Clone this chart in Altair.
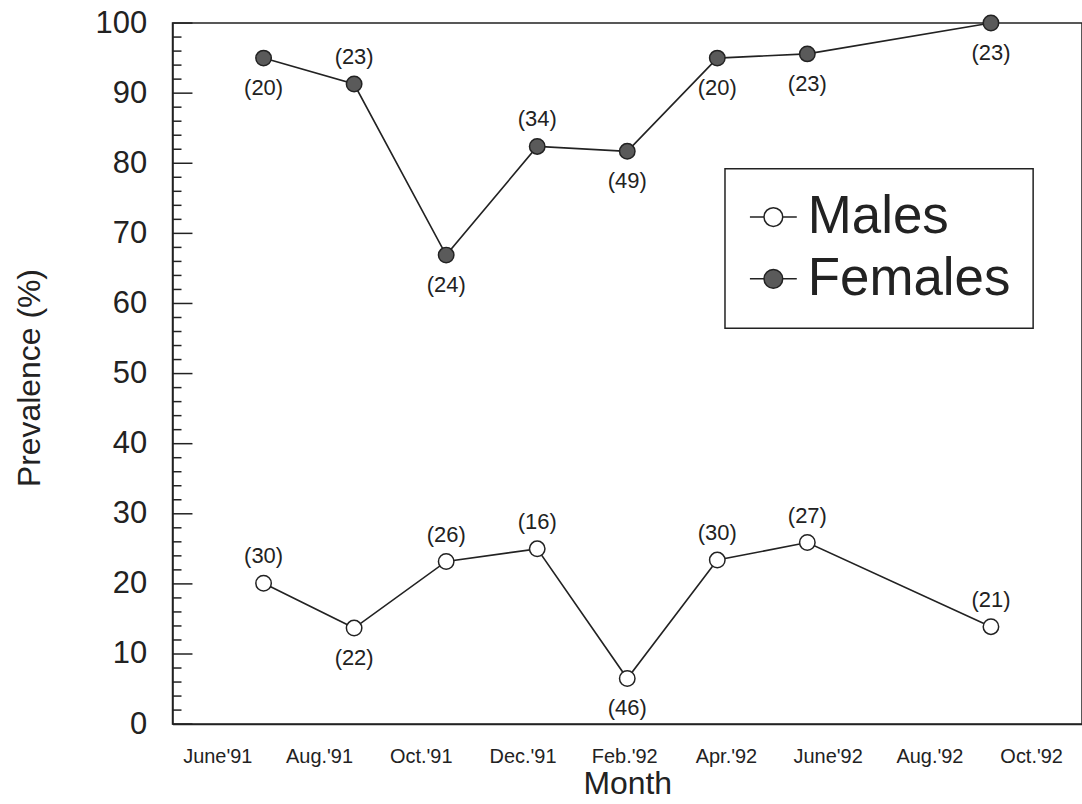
import json
import altair as alt
import pandas as pd

# ---- data ----
month_labels = ["June'91", "Aug.'91", "Oct.'91", "Dec.'91", "Feb.'92",
                "Apr.'92", "June'92", "Aug.'92", "Oct.'92"]
month_ticks = [0, 2, 4, 6, 8, 10, 12, 14, 16]          # months after June'91
survey_month = [0.91, 2.69, 4.50, 6.29, 8.06, 9.83, 11.60, 15.21]
males = [20.1, 13.7, 23.2, 25.0, 6.5, 23.4, 25.9, 13.9]
males_n = [30, 22, 26, 16, 46, 30, 27, 21]
females = [95.0, 91.3, 66.9, 82.4, 81.7, 95.0, 95.6, 100.0]
females_n = [20, 23, 24, 34, 49, 20, 23, 23]
y_major = list(range(0, 101, 10))
y_minor = [v for v in range(0, 101, 2) if v % 10 != 0]

# ---- style: where each sample-size label sits ----
males_side = ["above", "below", "above", "above", "below", "above", "above", "above"]
females_side = ["below", "above", "below", "above", "below", "below", "below", "below"]

rows = []
for sex, vals, ns, sides in (("Males", males, males_n, males_side),
                             ("Females", females, females_n, females_side)):
    for m, v, n, s in zip(survey_month, vals, ns, sides):
        rows.append({"sex": sex, "month": m, "value": v,
                     "label": f"({n})", "side": s})
df = pd.DataFrame(rows)

FONT = "Liberation Sans"
INK = "#222222"
W, H = 912, 703

x_scale = alt.Scale(domain=[-0.88, 17.0], nice=False, zero=False)
y_scale = alt.Scale(domain=[0, 100], nice=False)

label_expr = json.dumps(month_labels) + "[round(datum.value / 2)]"

x_enc = alt.X("month:Q", scale=x_scale,
              axis=alt.Axis(values=month_ticks, labelExpr=label_expr,
                            ticks=False, grid=False, domainColor=INK,
                            domainWidth=1.5, labelFontSize=20,
                            labelPadding=23, labelFont=FONT, labelColor=INK,
                            title="Month", titleFontSize=32,
                            titleFontWeight="normal", titleFont=FONT,
                            titleColor=INK, titleX=W / 2, titleY=70,
                            titleBaseline="alphabetic", titleAlign="center"))
y_enc = alt.Y("value:Q", scale=y_scale,
              axis=alt.Axis(values=y_major, ticks=False, grid=False,
                            domainColor=INK, domainWidth=1.5,
                            labelFontSize=31, labelPadding=26,
                            labelFont=FONT, labelColor=INK,
                            title="Prevalence (%)", titleFontSize=32,
                            titleFontWeight="normal", titleFont=FONT,
                            titleColor=INK, titleX=-133, titleY=H / 2 + 4,
                            titleAngle=270, titleBaseline="alphabetic",
                            titleAlign="center"))

base = alt.Chart(df)

lines = base.mark_line(color=INK, strokeWidth=1.6).encode(
    x=x_enc, y=y_enc, detail="sex:N")

SYMBOL = ("M-1,0H-0.4M0.4,0H1"
          "M0.4,0A0.4,0.4 0 1,1 -0.4,0A0.4,0.4 0 1,1 0.4,0Z")

points = base.mark_point(filled=True, size=240, stroke=INK, strokeWidth=1.5,
                         opacity=1).encode(
    x="month:Q", y="value:Q",
    fill=alt.Fill("sex:N",
                  scale=alt.Scale(domain=["Males", "Females"],
                                  range=["#ffffff", "#5a5a5a"]),
                  legend=alt.Legend(title=None, orient="none",
                                    legendX=554, legendY=146,
                                    direction="vertical",
                                    symbolType=SYMBOL, symbolSize=2209,
                                    symbolStrokeColor=INK,
                                    symbolStrokeWidth=1.5,
                                    labelFontSize=53, labelFont=FONT,
                                    labelColor=INK, labelOffset=8,
                                    labelLimit=0,
                                    padding=22, rowPadding=8,
                                    strokeColor=INK)))

txt_above = base.transform_filter("datum.side == 'above'").mark_text(
    fontSize=22, font=FONT, color=INK, dy=-27).encode(
    x="month:Q", y="value:Q", text="label:N")
txt_below = base.transform_filter("datum.side == 'below'").mark_text(
    fontSize=22, font=FONT, color=INK, dy=30).encode(
    x="month:Q", y="value:Q", text="label:N")

major_ticks = alt.Chart(pd.DataFrame({"value": y_major})).mark_rule(
    color=INK, strokeWidth=1.5).encode(
    y="value:Q", x=alt.value(0), x2=alt.value(20))
minor_ticks = alt.Chart(pd.DataFrame({"value": y_minor})).mark_rule(
    color=INK, strokeWidth=1.5).encode(
    y="value:Q", x=alt.value(0), x2=alt.value(9))

chart = alt.layer(major_ticks, minor_ticks, lines, points, txt_above,
                  txt_below).properties(
    width=W, height=H,
    autosize=alt.AutoSizeParams(type="none"),
    padding={"left": 173, "top": 22, "right": 0, "bottom": 79},
    background="white",
).configure_view(stroke=INK, strokeWidth=1.5).configure_legend(
    strokeWidth=1.5)

chart.save("out.html", embed_options={"renderer": "svg", "actions": False})
